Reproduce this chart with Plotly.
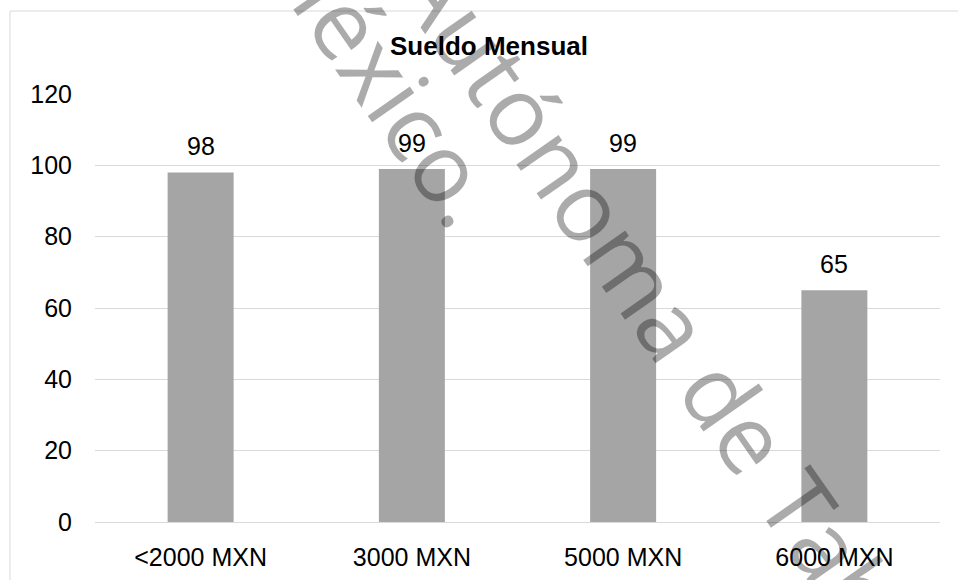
import plotly.graph_objects as go

# Monthly salary distribution
categories = ["<2000 MXN", "3000 MXN", "5000 MXN", "6000 MXN"]
counts = [98, 99, 99, 65]
y_ticks = [0, 20, 40, 60, 80, 100, 120]

# Diagonal watermark lines of the source document
watermark_lines = ["Autónoma de Tabasco", "México."]

W, H = 958, 580
L, R, T, B = 95, 18, 93.5, 58.3
plot_w, plot_h = W - L - R, H - T - B

FONT = "Liberation Sans, Arial, sans-serif"
BAR = "#A5A5A5"
GRID = "#D9D9D9"


def px_to_paper(px, py):
    return (px - L) / plot_w, (H - B - py) / plot_h


fig = go.Figure(
    go.Bar(
        x=categories,
        y=counts,
        marker=dict(color=BAR, line=dict(width=0)),
        hoverinfo="skip",
    )
)

# value labels above each bar
for cat, val in zip(categories, counts):
    fig.add_annotation(
        x=cat, y=val, text=str(val), showarrow=False,
        xref="x", yref="y", yanchor="bottom", yshift=10,
        font=dict(family=FONT, size=25, color="#000000"),
    )

# watermark text, rotated
ang = 55
for text, (cx, cy) in zip(watermark_lines, [(708, 372), (383, 72)]):
    px, py = px_to_paper(cx, cy)
    fig.add_annotation(
        x=px, y=py, xref="paper", yref="paper", text=text,
        showarrow=False, textangle=ang, xanchor="center", yanchor="middle",
        font=dict(family="Open Sans, sans-serif", size=96, weight=400,
                  color="rgba(0,0,0,0.33)"),
    )

# outer chart border
x0, y0 = px_to_paper(10, 590)
x1, y1 = px_to_paper(970, 10.5)
fig.add_shape(type="rect", xref="paper", yref="paper", x0=x0, y0=y0, x1=x1, y1=y1,
              line=dict(color=GRID, width=1), fillcolor="rgba(0,0,0,0)", layer="below")

fig.update_layout(
    width=W, height=H,
    margin=dict(l=L, r=R, t=T, b=B, pad=0, autoexpand=False),
    paper_bgcolor="white", plot_bgcolor="white",
    bargap=0.6876,
    showlegend=False,
    title=dict(
        text="<b>Sueldo Mensual</b>", x=489 / W, xanchor="center",
        xref="container", yref="container", y=1 - 46 / H, yanchor="middle",
        font=dict(family=FONT, size=26, color="#000000"),
    ),
    font=dict(family=FONT, size=25, color="#000000"),
)

fig.update_xaxes(
    showgrid=False, zeroline=False, showline=False, ticks="", automargin=False,
    tickfont=dict(family=FONT, size=25, color="#000000"),
    ticklabelstandoff=18, fixedrange=True,
)
fig.update_yaxes(
    range=[0, 120], tickvals=y_ticks, showgrid=True, gridcolor=GRID, gridwidth=1,
    zeroline=True, zerolinecolor=GRID, zerolinewidth=1, showline=False, ticks="",
    automargin=False,
    tickfont=dict(family=FONT, size=25, color="#000000"),
    ticklabelstandoff=22, fixedrange=True,
)

fig.write_html("out.html", config={"displayModeBar": False})
